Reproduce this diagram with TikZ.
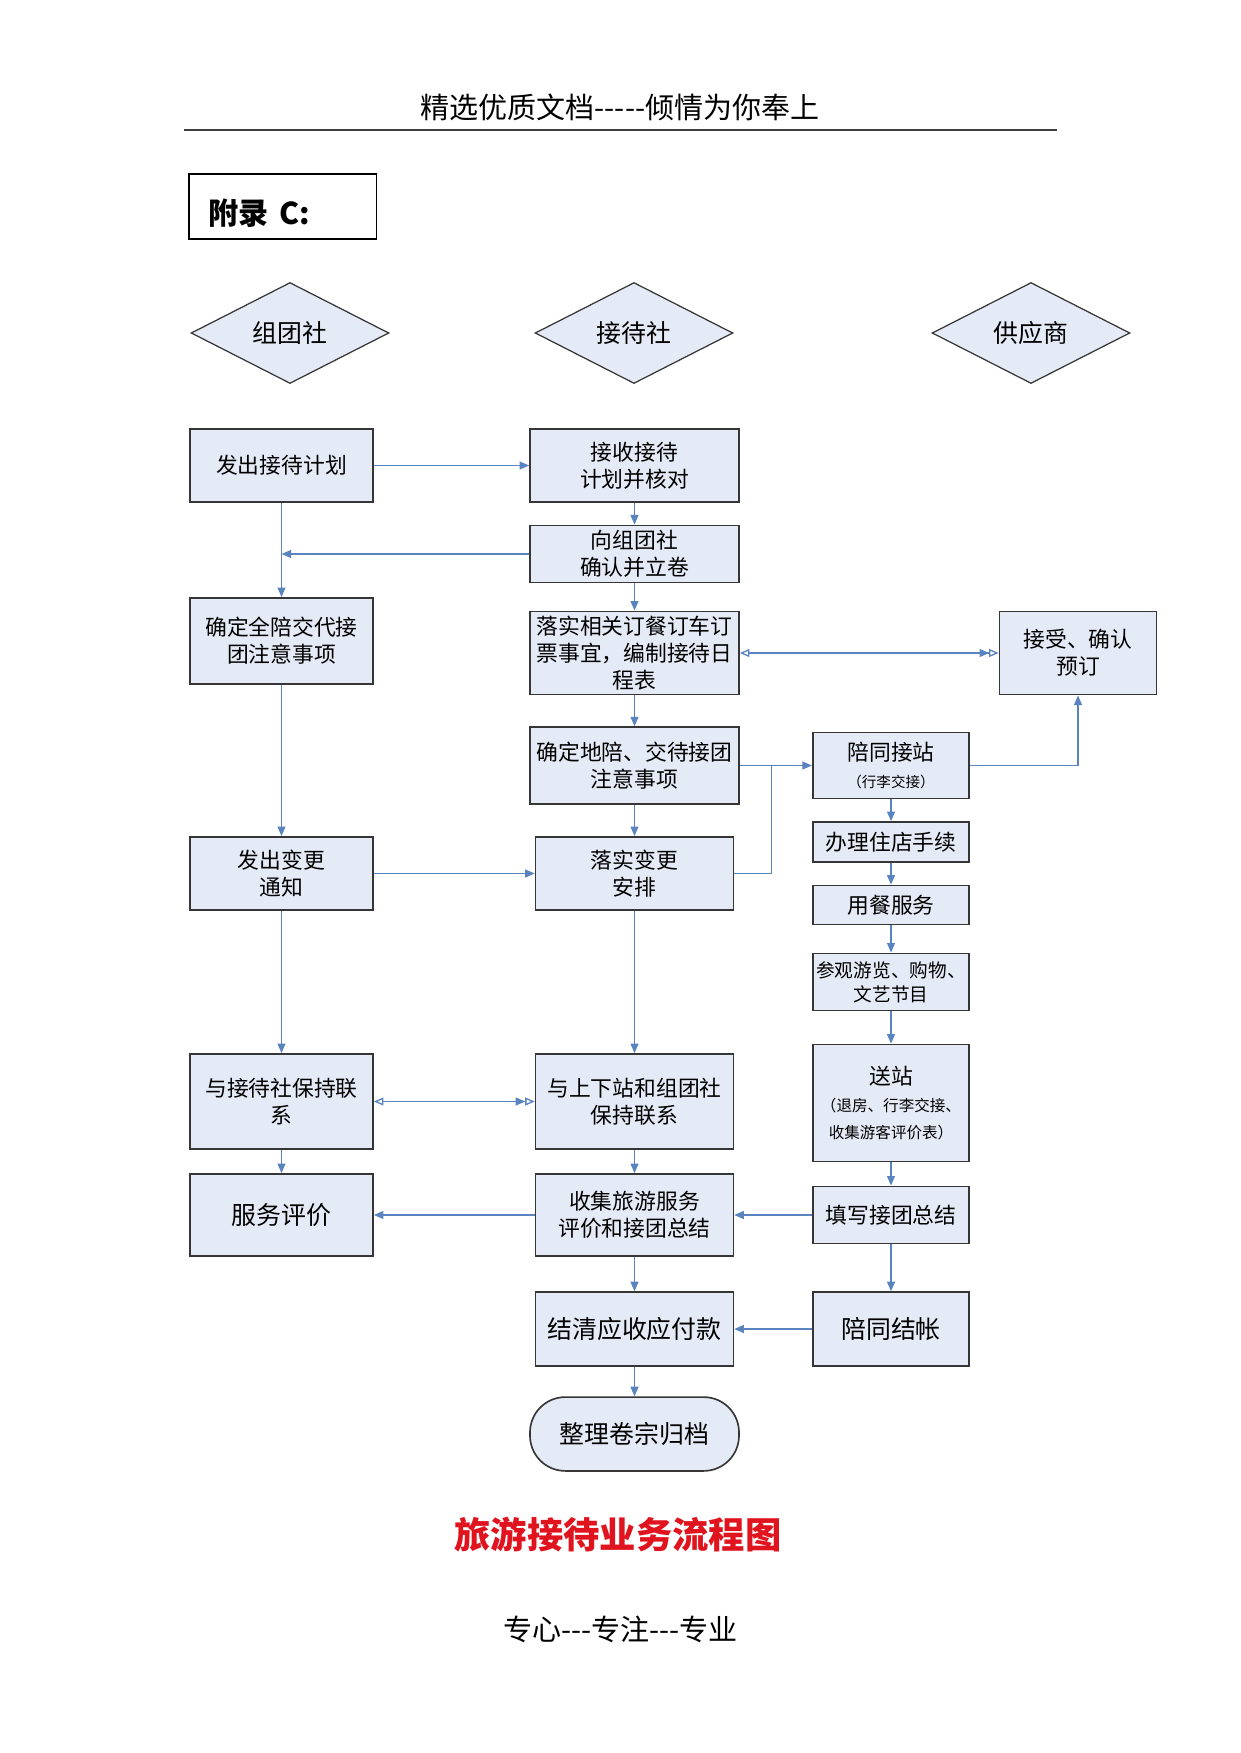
\documentclass[tikz,border=0pt]{standalone}
\usepackage{fontspec}
\setmainfont{Noto Sans CJK SC}
\usepackage{tikz}
\usetikzlibrary{arrows.meta,shapes.geometric}
\definecolor{boxfill}{HTML}{E5EBF6}
\definecolor{boxline}{HTML}{363636}
\definecolor{flowblue}{HTML}{5A84BF}
\definecolor{titlered}{HTML}{E0141E}
\newcommand{\smtxt}{\fontsize{7.5}{10}\selectfont}
\newcommand{\hy}{-\kern0pt}

\begin{document}
\begin{tikzpicture}[x=0.0169355cm, y=-0.0169355cm]

\tikzset{
  procbox/.style={rectangle, draw=boxline, fill=boxfill, line width=0.8pt, inner sep=1pt,
                  align=center, font=\fontsize{10.5}{13}\selectfont},
  bigbox/.style={procbox, font=\fontsize{12}{15}\selectfont},
  lanehead/.style={diamond, draw=boxline, fill=boxfill, line width=0.6pt, inner sep=0pt,
                   minimum width=3.35cm, minimum height=1.71cm, font=\fontsize{12}{14}\selectfont},
  flow/.style={-{Triangle[length=4.6pt,width=3.8pt]}, line width=0.65pt, draw=flowblue},
  link/.style={line width=0.65pt, draw=flowblue},
  twoway/.style={{Triangle[open,length=4.6pt,width=3.8pt]}-{Triangle[length=4.6pt,width=3.8pt]Triangle[open,length=4.6pt,width=3.8pt]},
                 line width=0.65pt, draw=flowblue}}

\useasboundingbox (0,0) rectangle (1240,1753);

% page header
\node[font=\fontsize{14}{17}\selectfont] (pghead) at (620,107) {精选优质文档\hy\hy\hy\hy\hy 倾情为你奉上};
\draw[line width=0.6pt, black!75] (184,130) -- (1057,130);

% appendix label
\node[draw, line width=0.8pt, anchor=north west, minimum width=3.18cm, minimum height=1.1cm,
      text width=2.5cm, text height=0.72cm, text depth=0.1cm, inner xsep=9pt, inner ysep=1pt,
      align=left, font=\bfseries\fontsize{14.5}{17}\selectfont]
      (fulu) at (188,173) {附录 C:};

% lane heads
\node[lanehead] (lzt) at (290,333)  {组团社};
\node[lanehead] (ljd) at (634,333)  {接待社};
\node[lanehead] (lgy) at (1031,333) {供应商};

% 组团社 column
\node[procbox, minimum width=3.10cm, minimum height=1.24cm] (zt1) at (281.5,465.5) {发出接待计划};
\node[procbox, minimum width=3.10cm, minimum height=1.46cm] (zt2) at (281.5,641) {确定全陪交代接\\团注意事项};
\node[procbox, minimum width=3.10cm, minimum height=1.24cm] (zt3) at (281.5,873.5) {发出变更\\通知};
\node[procbox, minimum width=3.10cm, minimum height=1.61cm] (zt4) at (281.5,1101.5) {与接待社保持联\\系};
\node[bigbox,  minimum width=3.10cm, minimum height=1.39cm] (zt5) at (281.5,1215) {服务评价};

% 接待社 column
\node[procbox, minimum width=3.54cm, minimum height=1.24cm] (jd1) at (634.5,465.5) {接收接待\\计划并核对};
\node[procbox, minimum width=3.54cm, minimum height=0.97cm] (jd2) at (634.5,554) {向组团社\\确认并立卷};
\node[procbox, minimum width=3.54cm, minimum height=1.41cm] (jd3) at (634.5,653) {落实相关订餐订车订\\票事宜，编制接待日\\程表};
\node[procbox, minimum width=3.54cm, minimum height=1.30cm] (jd4) at (634.5,765.5) {确定地陪、交待接团\\注意事项};
\node[procbox, minimum width=3.35cm, minimum height=1.24cm] (jd5) at (634.5,873.5) {落实变更\\安排};
\node[procbox, minimum width=3.35cm, minimum height=1.61cm] (jd6) at (634.5,1101.5) {与上下站和组团社\\保持联系};
\node[procbox, minimum width=3.35cm, minimum height=1.39cm] (jd7) at (634.5,1215) {收集旅游服务\\评价和接团总结};
\node[bigbox,  minimum width=3.35cm, minimum height=1.25cm] (jd8) at (634.5,1329) {结清应收应付款};
\node[bigbox,  minimum width=3.54cm, minimum height=1.25cm, rounded corners=17pt] (jd9) at (634.5,1434) {整理卷宗归档};

% 供应商 / escort column
\node[procbox, minimum width=2.66cm, minimum height=1.41cm] (gy1) at (1078,653) {接受、确认\\预订};
\node[procbox, minimum width=2.65cm, minimum height=1.12cm] (pt1) at (891,765.5) {陪同接站\\{\fontsize{7}{9}\selectfont （行李交接）}};
\node[procbox, minimum width=2.65cm, minimum height=0.68cm] (pt2) at (891,842) {办理住店手续};
\node[procbox, minimum width=2.65cm, minimum height=0.66cm] (pt3) at (891,905) {用餐服务};
\node[procbox, minimum width=2.65cm, minimum height=0.97cm, font=\fontsize{9}{11.5}\selectfont] (pt4) at (891,982) {参观游览、购物、\\文艺节目};
\node[procbox, minimum width=2.65cm, minimum height=1.98cm] (pt5) at (891,1103) {送站\\{\smtxt （退房、行李交接、}\\{\smtxt 收集游客评价表）}};
\node[procbox, minimum width=2.65cm, minimum height=0.97cm] (pt6) at (891,1215) {填写接团总结};
\node[bigbox,  minimum width=2.65cm, minimum height=1.25cm] (pt7) at (891,1329) {陪同结帐};

% left column links
\draw[flow] (zt1) -- (jd1);
\draw[flow] (zt1) -- (zt2);
\draw[flow] (jd2.west) -- (jd2.west -| zt1.south);
\draw[flow] (zt2) -- (zt3);
\draw[flow] (zt3) -- (jd5);
\draw[flow] (zt3) -- (zt4);
\draw[twoway] (zt4) -- (jd6);
\draw[flow] (zt4) -- (zt5);
\draw[flow] (jd7) -- (zt5);

% middle chain
\foreach \a/\b in {jd1/jd2,jd2/jd3,jd3/jd4,jd4/jd5,jd5/jd6,jd6/jd7,jd7/jd8,jd8/jd9}
  \draw[flow] (\a) -- (\b);
\draw[twoway] (jd3) -- (gy1);

% to the escort column
\coordinate (jn) at (771.5,765.5);
\draw[flow] (jd4) -- (pt1);
\draw[link] (jd5.east) -| (jn);
\draw[flow] (pt1.east) -| (gy1.south);
\foreach \a/\b in {pt1/pt2,pt2/pt3,pt3/pt4,pt4/pt5,pt5/pt6,pt6/pt7}
  \draw[flow] (\a) -- (\b);
\draw[flow] (pt6) -- (jd7);
\draw[flow] (pt7) -- (jd8);

% caption and footer
\node[font=\bfseries\fontsize{17.5}{20}\selectfont, text=titlered] (title) at (618,1534) {旅游接待业务流程图};
\node[font=\fontsize{14}{17}\selectfont] (pgfoot) at (620.5,1629) {专心\hy\hy\hy 专注\hy\hy\hy 专业};

\end{tikzpicture}
\end{document}
